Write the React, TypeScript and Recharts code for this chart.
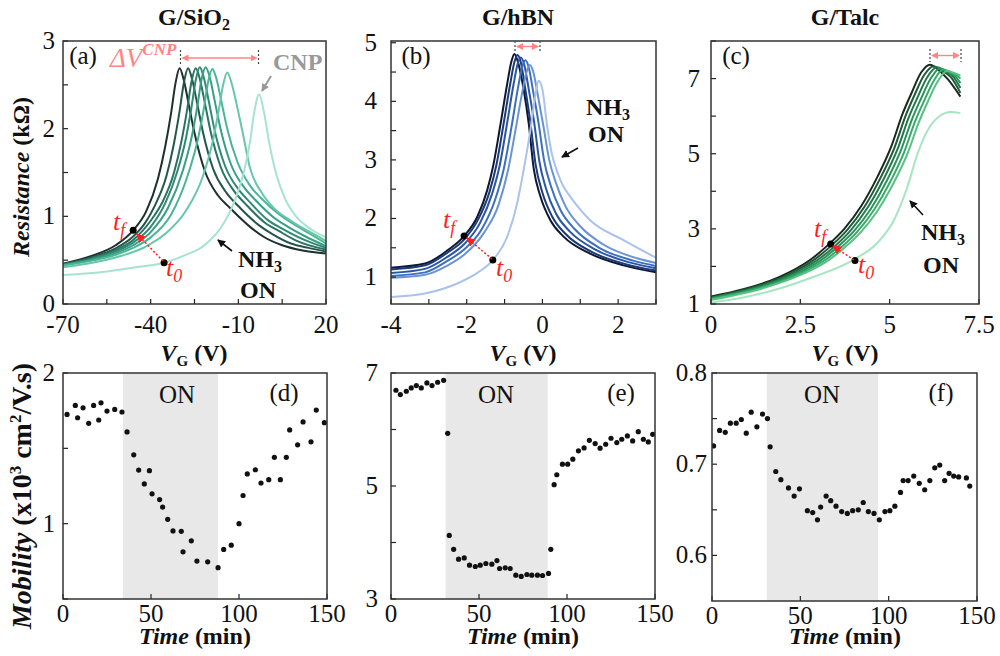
import React from 'react';
import {
  LineChart,
  Line,
  XAxis,
  YAxis,
  ScatterChart,
  Scatter,
  ReferenceArea,
  ReferenceDot,
} from 'recharts';

const FONT = '"Liberation Serif", "Times New Roman", serif';

// R(V_G) sweeps, [V_G, kOhm] per sweep, darkest (t_f) first, lightest (t_0) last
const sio2Sweeps: number[][][] = [
  [[-70,0.46],[-60,0.55],[-52,0.67],[-46,0.84],[-41.5,1.06],[-37.5,1.43],[-35,1.8],[-33,2.18],[-31.5,2.52],[-30.1,2.69],[-28.7,2.56],[-27,2.28],[-25,1.95],[-21.5,1.52],[-17,1.24],[-13,1.1],[-6,0.88],[-1.5,0.77],[5,0.67],[12,0.61],[20,0.575]],
  [[-70,0.455],[-60,0.535],[-52,0.635],[-46,0.77],[-42,0.92],[-38.6,1.12],[-34.6,1.46],[-32.1,1.82],[-30.1,2.2],[-28.6,2.53],[-27.2,2.69],[-25.8,2.56],[-24.1,2.29],[-22.1,1.96],[-18.6,1.54],[-14.1,1.27],[-10.1,1.12],[-3,0.9],[1.5,0.8],[8,0.69],[14,0.64],[20,0.6]],
  [[-70,0.45],[-60,0.525],[-52,0.615],[-46,0.73],[-40,0.95],[-36,1.16],[-32,1.5],[-29.5,1.85],[-27.5,2.22],[-26,2.54],[-24.6,2.69],[-23.2,2.57],[-21.5,2.3],[-19.5,1.97],[-16,1.56],[-11.5,1.29],[-7.5,1.14],[-1,0.93],[4,0.83],[10,0.72],[20,0.62]],
  [[-70,0.447],[-60,0.515],[-52,0.6],[-46,0.7],[-40,0.88],[-35,1.15],[-31,1.5],[-28,1.88],[-26,2.25],[-24.6,2.55],[-23.2,2.7],[-21.8,2.58],[-20.1,2.31],[-18.1,1.98],[-14.6,1.58],[-10,1.31],[-6,1.16],[0,0.96],[5,0.86],[12,0.74],[20,0.64]],
  [[-70,0.443],[-60,0.505],[-52,0.58],[-46,0.67],[-40,0.82],[-34,1.1],[-29,1.52],[-26,1.9],[-24,2.26],[-22.6,2.56],[-21.2,2.7],[-19.8,2.59],[-18.1,2.32],[-16.1,2.0],[-12.6,1.6],[-8,1.33],[-4,1.18],[2,0.99],[7,0.88],[13,0.77],[20,0.66]],
  [[-70,0.44],[-60,0.495],[-52,0.56],[-46,0.64],[-40,0.76],[-33,1.02],[-27,1.5],[-23.7,1.9],[-21.7,2.25],[-20.3,2.54],[-18.9,2.68],[-17.5,2.57],[-15.8,2.31],[-13.8,2.0],[-10.3,1.62],[-6,1.35],[-2,1.2],[4,1.02],[9,0.91],[14,0.81],[20,0.69]],
  [[-70,0.42],[-60,0.47],[-50,0.55],[-42,0.65],[-35,0.8],[-28,1.06],[-22.1,1.46],[-18.6,1.88],[-16.6,2.23],[-15.2,2.5],[-13.8,2.64],[-12.4,2.53],[-10.6,2.28],[-8.6,1.97],[-6,1.55],[-2,1.27],[2,1.1],[8,0.95],[14,0.83],[20,0.72]],
  [[-70,0.33],[-55,0.37],[-45,0.42],[-35.4,0.47],[-28,0.56],[-22,0.66],[-15,0.92],[-11,1.2],[-8,1.52],[-6,1.85],[-4.5,2.2],[-2.9,2.39],[-1.3,2.2],[0.5,1.85],[3,1.48],[6,1.2],[10,0.99],[15,0.85],[20,0.76]],
];
const sio2Colors = ['#1d302b', '#24574a', '#2a7262', '#2f8a74', '#37a084', '#4ab595', '#66c7a8', '#a6e3d1'];

const hbnSweeps: number[][][] = [
  [[-4,1.16],[-3.1,1.23],[-2.5,1.46],[-2.07,1.7],[-1.72,2.03],[-1.46,2.48],[-1.3,2.9],[-1.11,3.6],[-0.93,4.3],[-0.82,4.68],[-0.74,4.81],[-0.66,4.7],[-0.49,4.18],[-0.36,3.61],[-0.23,2.85],[-0.05,2.37],[0.21,1.97],[0.56,1.69],[1.26,1.4],[2.14,1.2],[3,1.08]],
  [[-4,1.13],[-3.1,1.2],[-2.5,1.42],[-2.07,1.64],[-1.7,1.98],[-1.4,2.45],[-1.22,2.9],[-1.03,3.6],[-0.85,4.3],[-0.74,4.67],[-0.66,4.79],[-0.58,4.69],[-0.45,4.2],[-0.32,3.65],[-0.18,2.92],[0,2.44],[0.26,2.03],[0.62,1.73],[1.3,1.43],[2.2,1.22],[3,1.11]],
  [[-4,1.07],[-3.1,1.14],[-2.5,1.35],[-2.07,1.56],[-1.65,1.92],[-1.33,2.42],[-1.13,2.9],[-0.94,3.6],[-0.76,4.3],[-0.65,4.65],[-0.57,4.75],[-0.49,4.65],[-0.36,4.2],[-0.22,3.65],[-0.08,2.97],[0.1,2.5],[0.36,2.08],[0.72,1.78],[1.4,1.47],[2.3,1.25],[3,1.15]],
  [[-4,1.02],[-3.1,1.08],[-2.5,1.28],[-2.07,1.47],[-1.6,1.82],[-1.25,2.32],[-1.02,2.85],[-0.82,3.55],[-0.64,4.25],[-0.53,4.6],[-0.45,4.7],[-0.37,4.6],[-0.24,4.15],[-0.1,3.62],[0.05,2.97],[0.22,2.56],[0.48,2.14],[0.85,1.82],[1.5,1.5],[2.4,1.28],[3,1.19]],
  [[-4,0.99],[-3.1,1.04],[-2.5,1.2],[-2.07,1.38],[-1.55,1.75],[-1.15,2.25],[-0.9,2.85],[-0.7,3.55],[-0.52,4.2],[-0.41,4.52],[-0.33,4.62],[-0.25,4.52],[-0.12,4.1],[0.02,3.6],[0.18,3.0],[0.35,2.62],[0.6,2.22],[0.98,1.88],[1.6,1.56],[2.5,1.32],[3,1.24]],
  [[-4,0.66],[-3.1,0.72],[-2.25,0.89],[-1.7,1.08],[-1.31,1.29],[-0.93,1.69],[-0.67,2.25],[-0.49,2.85],[-0.32,3.5],[-0.2,4.05],[-0.1,4.35],[0,4.2],[0.12,3.6],[0.25,3.1],[0.39,2.8],[0.55,2.55],[0.74,2.37],[1.0,2.15],[1.26,1.97],[2.14,1.63],[3,1.33]],
];
const hbnColors = ['#0c1834', '#1b3a78', '#2a55a3', '#3d6fc0', '#6a93d6', '#a9c3ea'];

const talcSweeps: number[][][] = [
  [[0,1.2],[0.93,1.4],[1.87,1.7],[2.8,2.19],[3.31,2.6],[3.73,3.0],[4.2,3.6],[4.66,4.39],[5.04,5.18],[5.36,6.06],[5.6,6.59],[5.88,7.16],[6.13,7.37],[6.34,7.25],[6.62,6.99],[6.98,6.52]],
  [[0,1.18],[1.02,1.4],[1.96,1.7],[2.89,2.18],[3.4,2.58],[3.82,2.98],[4.29,3.58],[4.75,4.37],[5.13,5.15],[5.45,6.02],[5.69,6.55],[5.97,7.1],[6.23,7.33],[6.44,7.23],[6.72,7.03],[6.98,6.62]],
  [[0,1.16],[1.11,1.4],[2.05,1.7],[2.98,2.17],[3.49,2.56],[3.91,2.96],[4.38,3.56],[4.84,4.34],[5.22,5.12],[5.54,5.98],[5.78,6.5],[6.06,7.05],[6.32,7.3],[6.52,7.22],[6.78,7.05],[6.98,6.75]],
  [[0,1.15],[1.2,1.4],[2.14,1.7],[3.07,2.16],[3.58,2.55],[4.0,2.94],[4.47,3.53],[4.93,4.3],[5.31,5.08],[5.63,5.93],[5.87,6.45],[6.15,7.0],[6.4,7.27],[6.6,7.2],[6.84,7.06],[6.98,6.88]],
  [[0,1.13],[1.29,1.4],[2.23,1.7],[3.16,2.15],[3.67,2.53],[4.09,2.92],[4.56,3.5],[5.02,4.26],[5.4,5.03],[5.72,5.88],[5.96,6.4],[6.24,6.95],[6.5,7.24],[6.68,7.18],[6.88,7.08],[6.98,7.0]],
  [[0,1.11],[1.38,1.4],[2.32,1.7],[3.25,2.14],[3.76,2.52],[4.18,2.9],[4.65,3.47],[5.11,4.22],[5.49,4.98],[5.81,5.82],[6.05,6.35],[6.33,6.9],[6.6,7.2],[6.8,7.15],[6.98,7.08]],
  [[0,1.04],[0.93,1.18],[1.87,1.4],[2.8,1.7],[4.01,2.19],[4.66,2.63],[5.13,3.25],[5.5,4.13],[5.78,5.0],[6.06,5.62],[6.34,5.96],[6.72,6.11],[6.98,6.08]],
];
const talcColors = ['#172a1e', '#1d5a37', '#20794a', '#28935b', '#37a96b', '#55c181', '#a6e6c0'];

// mobility (x10^3 cm2/V.s) vs time (min)
const sio2Mobility: number[][] = [
  [2.3,1.725],[7.0,1.785],[8.3,1.703],[11.4,1.769],[14.6,1.666],[17.4,1.785],[20.3,1.688],[21.6,1.802],[25.0,1.747],[29.4,1.758],[33.5,1.741],
  [36.4,1.609],[40.2,1.457],[43.0,1.356],[46.2,1.264],[49.1,1.352],[50.6,1.198],[54.9,1.16],[56.6,1.11],[59.5,1.029],[62.5,0.952],[67.2,0.949],[68.2,0.813],[72.9,0.886],[76.1,0.752],[82.2,0.747],[88.1,0.708],
  [91.3,0.829],[95.6,0.857],[100.0,1.0],[102.3,1.187],[104.7,1.33],[109.3,1.358],[112.5,1.27],[116.9,1.292],[120.1,1.44],[123.5,1.292],[126.9,1.44],[128.8,1.622],[133.3,1.523],[136.4,1.675],[140.9,1.543],[143.9,1.754],[148.5,1.67],
];
const hbnMobility: number[][] = [
  [2.8,6.695],[5.3,6.619],[8.7,6.677],[11.5,6.736],[14.4,6.777],[17.2,6.736],[20.4,6.824],[23.3,6.777],[26.5,6.836],[29.9,6.871],
  [32.2,5.933],[33.1,4.126],[35.6,3.88],[38.4,3.704],[41.6,3.727],[44.6,3.598],[47.9,3.575],[50.7,3.598],[53.9,3.628],[57.3,3.616],[60.2,3.68],[61.7,3.54],[64.9,3.551],[67.7,3.54],[70.9,3.422],[74.0,3.399],[77.2,3.434],[80.0,3.422],[83.2,3.422],[86.1,3.416],[89.5,3.452],
  [90.8,3.88],[92.7,5.023],[94.2,5.199],[97.4,5.387],[100.4,5.387],[103.3,5.475],[106.5,5.622],[109.7,5.674],[112.7,5.809],[116.0,5.751],[118.8,5.669],[122.0,5.739],[125.0,5.845],[128.3,5.768],[131.1,5.827],[134.3,5.886],[137.3,5.798],[140.5,5.962],[143.4,5.827],[146.2,5.78],[148.7,5.915],
];
const talcMobility: number[][] = [
  [0.9,0.72],[4.3,0.737],[7.5,0.735],[10.4,0.745],[13.7,0.745],[16.6,0.749],[19.4,0.734],[22.2,0.757],[25.4,0.741],[28.6,0.755],[31.4,0.75],
  [32.9,0.719],[36.1,0.692],[39.0,0.683],[43.3,0.674],[46.5,0.665],[49.5,0.673],[54.0,0.649],[57.0,0.647],[59.7,0.639],[61.5,0.653],[64.6,0.665],[67.2,0.66],[70.2,0.654],[73.4,0.648],[76.6,0.646],[79.6,0.649],[82.8,0.65],[85.6,0.658],[88.5,0.648],[91.7,0.646],[94.7,0.639],
  [97.9,0.648],[100.7,0.649],[103.5,0.654],[106.7,0.669],[108.2,0.682],[111.0,0.682],[114.2,0.687],[117.3,0.679],[120.4,0.672],[123.3,0.682],[126.1,0.696],[128.9,0.699],[131.7,0.682],[134.2,0.69],[136.8,0.687],[139.6,0.686],[144.0,0.685],[145.9,0.676],
];
// NH3 exposure windows (min) for d, e, f
const onWindows = [[34, 88], [31, 89], [31, 94]];

// t_f / t_0 marker points, [V, kOhm]
const sio2Markers = [[-46, 0.84], [-35.4, 0.47]];
const hbnMarkers = [[-2.07, 1.7], [-1.31, 1.29]];
const talcMarkers = [[3.35, 2.6], [4.03, 2.16]];

// ticks
const sio2XTicks = [-70, -55, -40, -25, -10, 5, 20];
const sio2XLabels = [-70, -40, -10, 20];
const sio2YTicks = [0, 0.5, 1, 1.5, 2, 2.5, 3];
const sio2YLabels = [0, 1, 2, 3];
const hbnXTicks = [-4, -3, -2, -1, 0, 1, 2, 3];
const hbnXLabels = [-4, -2, 0, 2];
const hbnYTicks = [1, 1.5, 2, 2.5, 3, 3.5, 4, 4.5, 5];
const hbnYLabels = [1, 2, 3, 4, 5];
const talcXTicks = [0, 2.5, 5, 7.5];
const talcYTicks = [1, 2, 3, 4, 5, 6, 7, 8];
const talcYLabels = [1, 3, 5, 7];
const timeTicks = [0, 50, 100, 150];
const mobSio2YTicks = [0.5, 1, 1.5, 2];
const mobSio2YLabels = [1, 2];
const mobHbnYTicks = [3, 4, 5, 6, 7];
const mobHbnYLabels = [3, 5, 7];
const mobTalcYTicks = [0.6, 0.65, 0.7, 0.75, 0.8];
const mobTalcYLabels = [0.6, 0.7, 0.8];

type Box = { left: number; top: number; width: number; height: number };
const boxes: Record<string, Box> = {
  a: { left: 63, top: 41, width: 263, height: 263 },
  b: { left: 391, top: 41, width: 265, height: 263 },
  c: { left: 711, top: 41, width: 268, height: 263 },
  d: { left: 63, top: 373, width: 264, height: 226 },
  e: { left: 391, top: 373, width: 264, height: 226 },
  f: { left: 712, top: 373, width: 265, height: 228 },
};

const ML = 56;
const MT = 22;
const MR = 20;
const MB = 40;

const has = (list: number[], v: number) => list.some((l) => Math.abs(l - v) < 1e-6);

const xTick = (labels: number[], drop: number, fmt: (v: number) => string = String) => (p: any) => {
  const v = p.payload.value;
  return (
    <g>
      <line x1={p.x} x2={p.x} y1={p.y} y2={p.y - 5} stroke="#222" strokeWidth={1.2} />
      {has(labels, v) && (
        <text x={p.x} y={p.y + drop} textAnchor="middle" fontFamily={FONT} fontSize={25} fill="#111">
          {fmt(v)}
        </text>
      )}
    </g>
  );
};

const yTick = (labels: number[], gap: number, fmt: (v: number) => string = String) => (p: any) => {
  const v = p.payload.value;
  return (
    <g>
      <line x1={p.x} x2={p.x + 5} y1={p.y} y2={p.y} stroke="#222" strokeWidth={1.2} />
      {has(labels, v) && (
        <text x={p.x - gap} y={p.y + 8} textAnchor="end" fontFamily={FONT} fontSize={25} fill="#111">
          {fmt(v)}
        </text>
      )}
    </g>
  );
};

type SweepProps = {
  box: Box;
  sweeps: number[][][];
  colors: string[];
  markers: number[][];
  xDomain: number[];
  yDomain: number[];
  xTicks: number[];
  xLabels: number[];
  yTicks: number[];
  yLabels: number[];
  yGap: number;
};

const SweepPanel: React.FC<SweepProps> = ({ box, sweeps, colors, markers, xDomain, yDomain, xTicks, xLabels, yTicks, yLabels, yGap }) => (
  <div style={{ position: 'absolute', left: box.left - ML, top: box.top - MT }}>
    <LineChart
      width={box.width + ML + MR}
      height={box.height + MT + MB}
      margin={{ top: MT, right: MR, bottom: 0, left: 0 }}
      style={{ overflow: 'visible' }}
    >
      <XAxis
        type="number"
        dataKey="x"
        domain={xDomain}
        ticks={xTicks}
        interval={0}
        allowDataOverflow
        height={MB}
        axisLine={false}
        tickLine={false}
        tickSize={0}
        tickMargin={0}
        tick={xTick(xLabels, 29)}
      />
      <YAxis
        type="number"
        domain={yDomain}
        ticks={yTicks}
        interval={0}
        allowDataOverflow
        width={ML}
        axisLine={false}
        tickLine={false}
        tickSize={0}
        tickMargin={0}
        tick={yTick(yLabels, yGap)}
      />
      {sweeps.map((s, i) => (
        <Line
          key={i}
          data={s.map(([x, y]) => ({ x, y }))}
          dataKey="y"
          type="monotone"
          stroke={colors[i]}
          strokeWidth={2}
          dot={false}
          activeDot={false}
          isAnimationActive={false}
        />
      ))}
      {markers.map(([x, y], i) => (
        <ReferenceDot key={i} x={x} y={y} r={3.5} fill="#000" stroke="none" />
      ))}
    </LineChart>
  </div>
);

type MobProps = {
  box: Box;
  points: number[][];
  on: number[];
  yDomain: number[];
  yTicks: number[];
  yLabels: number[];
  yGap: number;
};

const MobilityPanel: React.FC<MobProps> = ({ box, points, on, yDomain, yTicks, yLabels, yGap }) => (
  <div style={{ position: 'absolute', left: box.left - ML, top: box.top - MT }}>
    <ScatterChart
      width={box.width + ML + MR}
      height={box.height + MT + MB}
      margin={{ top: MT, right: MR, bottom: 0, left: 0 }}
      style={{ overflow: 'visible' }}
    >
      <XAxis
        type="number"
        dataKey="x"
        domain={[0, 150]}
        ticks={timeTicks}
        interval={0}
        allowDataOverflow
        height={MB}
        axisLine={false}
        tickLine={false}
        tickSize={0}
        tickMargin={0}
        tick={xTick(timeTicks, 23)}
      />
      <YAxis
        type="number"
        dataKey="y"
        domain={yDomain}
        ticks={yTicks}
        interval={0}
        allowDataOverflow
        width={ML}
        axisLine={false}
        tickLine={false}
        tickSize={0}
        tickMargin={0}
        tick={yTick(yLabels, yGap)}
      />
      <ReferenceArea x1={on[0]} x2={on[1]} fill="#e8e8e8" fillOpacity={1} stroke="none" />
      <Scatter
        data={points.map(([x, y]) => ({ x, y }))}
        isAnimationActive={false}
        shape={(p: any) => <circle cx={p.cx} cy={p.cy} r={2.6} fill="#111" />}
      />
    </ScatterChart>
  </div>
);

const Arrow: React.FC<{ x1: number; y1: number; x2: number; y2: number; color: string; head: string; dash?: string; both?: boolean; w?: number }> = ({ x1, y1, x2, y2, color, head, dash, both, w = 1.6 }) => (
  <line
    x1={x1}
    y1={y1}
    x2={x2}
    y2={y2}
    stroke={color}
    strokeWidth={w}
    strokeDasharray={dash}
    markerEnd={`url(#${head})`}
    markerStart={both ? `url(#${head})` : undefined}
  />
);

const Head: React.FC<{ id: string; color: string; size: number }> = ({ id, color, size }) => (
  <marker id={id} markerWidth={size} markerHeight={size} refX={size - 1} refY={size / 2} orient="auto-start-reverse" markerUnits="userSpaceOnUse">
    <path d={`M0,0 L${size},${size / 2} L0,${size} z`} fill={color} />
  </marker>
);

const Overlay: React.FC = () => {
  const pink = '#ff8585';
  const red = '#ff1f1f';
  const b = boxes;
  const title = (x: number, main: string, sub?: string) => (
    <text x={x} y={25} textAnchor="middle" fontSize={24} fontWeight="bold" fill="#111">
      {main}
      {sub && <tspan dy={5} fontSize={16}>{sub}</tspan>}
    </text>
  );
  const vgLabel = (x: number) => (
    <text x={x} y={361} textAnchor="middle" fontSize={24} fontWeight="bold" fill="#111">
      <tspan fontStyle="italic">V</tspan>
      <tspan dy={5} fontSize={15}>G</tspan>
      <tspan dy={-5}> (V)</tspan>
    </text>
  );
  const timeLabel = (x: number) => (
    <text x={x} y={644} textAnchor="middle" fontSize={24} fontWeight="bold" fill="#111">
      <tspan fontStyle="italic">Time</tspan> (min)
    </text>
  );
  const tLabel = (x: number, y: number, sub: string) => (
    <text x={x} y={y} fontSize={26} fontStyle="italic" fill={red}>
      t<tspan dy={6} fontSize={18}>{sub}</tspan>
    </text>
  );
  const nh3 = (x: number, y1: number, y2: number) => (
    <g fontSize={24} fontWeight="bold" fill="#111">
      <text x={x} y={y1}>
        NH<tspan dy={5} fontSize={16}>3</tspan>
      </text>
      <text x={x + 2} y={y2}>ON</text>
    </g>
  );
  const shift = (xa: number, xb: number, y0: number, y1: number) => (
    <g>
      <line x1={xa} x2={xa} y1={y0} y2={y1} stroke="#444" strokeWidth={1.2} strokeDasharray="2 2" />
      <line x1={xb} x2={xb} y1={y0} y2={y1} stroke="#444" strokeWidth={1.2} strokeDasharray="2 2" />
      <Arrow x1={xa + 2} y1={(y0 + y1) / 2} x2={xb - 2} y2={(y0 + y1) / 2} color={pink} head="pinkHead" both w={1.4} />
    </g>
  );
  return (
    <svg width={1000} height={656} style={{ position: 'absolute', left: 0, top: 0, pointerEvents: 'none' }} fontFamily={FONT}>
      <defs>
        <Head id="pinkHead" color={pink} size={7} />
        <Head id="redHead" color={red} size={9} />
        <Head id="blackHead" color="#111" size={8} />
        <Head id="grayHead" color="#999" size={8} />
      </defs>
      {Object.keys(b).map((k) => (
        <rect key={k} x={b[k].left} y={b[k].top} width={b[k].width} height={b[k].height} fill="none" stroke="#333" strokeWidth={1.5} />
      ))}

      {title(194, 'G/SiO', '2')}
      {title(518, 'G/hBN')}
      {title(845, 'G/Talc')}
      {vgLabel(194)}
      {vgLabel(523)}
      {vgLabel(845)}
      {timeLabel(195)}
      {timeLabel(523)}
      {timeLabel(845)}

      <text transform="translate(29,177) rotate(-90)" textAnchor="middle" fontSize={24} fontWeight="bold" fill="#111">
        <tspan fontStyle="italic">Resistance</tspan> (kΩ)
      </text>
      <text transform="translate(31,496) rotate(-90)" textAnchor="middle" fontSize={28} fontWeight="bold" fill="#111">
        <tspan fontStyle="italic">Mobility</tspan> (x10<tspan dy={-10} fontSize={17}>3</tspan>
        <tspan dy={10}> cm</tspan>
        <tspan dy={-10} fontSize={17}>2</tspan>
        <tspan dy={10}>/V.s)</tspan>
      </text>

      <g fontSize={25} fill="#111">
        <text x={83} y={64} textAnchor="middle">(a)</text>
        <text x={416} y={64} textAnchor="middle">(b)</text>
        <text x={736} y={64} textAnchor="middle">(c)</text>
        <text x={284} y={401} textAnchor="middle">(d)</text>
        <text x={621} y={401} textAnchor="middle">(e)</text>
        <text x={941} y={401} textAnchor="middle">(f)</text>
        <text x={177} y={403} textAnchor="middle">ON</text>
        <text x={496} y={403} textAnchor="middle">ON</text>
        <text x={822} y={403} textAnchor="middle">ON</text>
      </g>

      {/* panel a annotations */}
      <text x={110} y={67} fill={pink} fontSize={27} fontStyle="italic">
        ΔV<tspan dy={-12} fontSize={17} fontWeight="bold">CNP</tspan>
      </text>
      {shift(180.5, 258.5, 50, 66)}
      <text x={273} y={70} fill="#999" fontSize={24} fontWeight="bold">CNP</text>
      <Arrow x1={271} y1={76} x2={262} y2={91} color="#999" head="grayHead" w={2} />
      {tLabel(113, 230, 'f')}
      {tLabel(166, 276, '0')}
      <Arrow x1={163} y1={261} x2={137} y2={234} color={red} head="redHead" dash="2 2" w={1.5} />
      {nh3(238, 267, 298)}
      <Arrow x1={232} y1={251} x2={218} y2={240} color="#111" head="blackHead" w={1.6} />

      {/* panel b annotations */}
      {shift(515, 540, 41, 52)}
      {nh3(586, 115, 142)}
      <Arrow x1={578} y1={148} x2={562} y2={157} color="#111" head="blackHead" w={1.6} />
      {tLabel(443, 228, 'f')}
      {tLabel(496, 276, '0')}
      <Arrow x1={492} y1={259} x2={467} y2={238} color={red} head="redHead" dash="2 2" w={1.5} />

      {/* panel c annotations */}
      {shift(930, 961, 49, 62)}
      {nh3(921, 240, 273)}
      <Arrow x1={923} y1={215} x2={910} y2={201} color="#111" head="blackHead" w={1.6} />
      {tLabel(814, 237, 'f')}
      {tLabel(858, 273, '0')}
      <Arrow x1={854} y1={260} x2={833} y2={246} color={red} head="redHead" dash="2 2" w={1.5} />
    </svg>
  );
};

export default function App() {
  return (
    <div style={{ position: 'absolute', left: 0, top: 0, width: 1000, height: 656, background: '#fff', fontFamily: FONT }}>
      <SweepPanel box={boxes.a} sweeps={sio2Sweeps} colors={sio2Colors} markers={sio2Markers} xDomain={[-70, 20]} yDomain={[0, 3]}
        xTicks={sio2XTicks} xLabels={sio2XLabels} yTicks={sio2YTicks} yLabels={sio2YLabels} yGap={8} />
      <SweepPanel box={boxes.b} sweeps={hbnSweeps} colors={hbnColors} markers={hbnMarkers} xDomain={[-4, 3]} yDomain={[0.54, 5.03]}
        xTicks={hbnXTicks} xLabels={hbnXLabels} yTicks={hbnYTicks} yLabels={hbnYLabels} yGap={14} />
      <SweepPanel box={boxes.c} sweeps={talcSweeps} colors={talcColors} markers={talcMarkers} xDomain={[0, 7.5]} yDomain={[1, 8]}
        xTicks={talcXTicks} xLabels={talcXTicks} yTicks={talcYTicks} yLabels={talcYLabels} yGap={11} />
      <MobilityPanel box={boxes.d} points={sio2Mobility} on={onWindows[0]} yDomain={[0.5, 2]} yTicks={mobSio2YTicks} yLabels={mobSio2YLabels} yGap={8} />
      <MobilityPanel box={boxes.e} points={hbnMobility} on={onWindows[1]} yDomain={[3, 7]} yTicks={mobHbnYTicks} yLabels={mobHbnYLabels} yGap={13} />
      <MobilityPanel box={boxes.f} points={talcMobility} on={onWindows[2]} yDomain={[0.55, 0.8]} yTicks={mobTalcYTicks} yLabels={mobTalcYLabels} yGap={5} />
      <Overlay />
    </div>
  );
}
